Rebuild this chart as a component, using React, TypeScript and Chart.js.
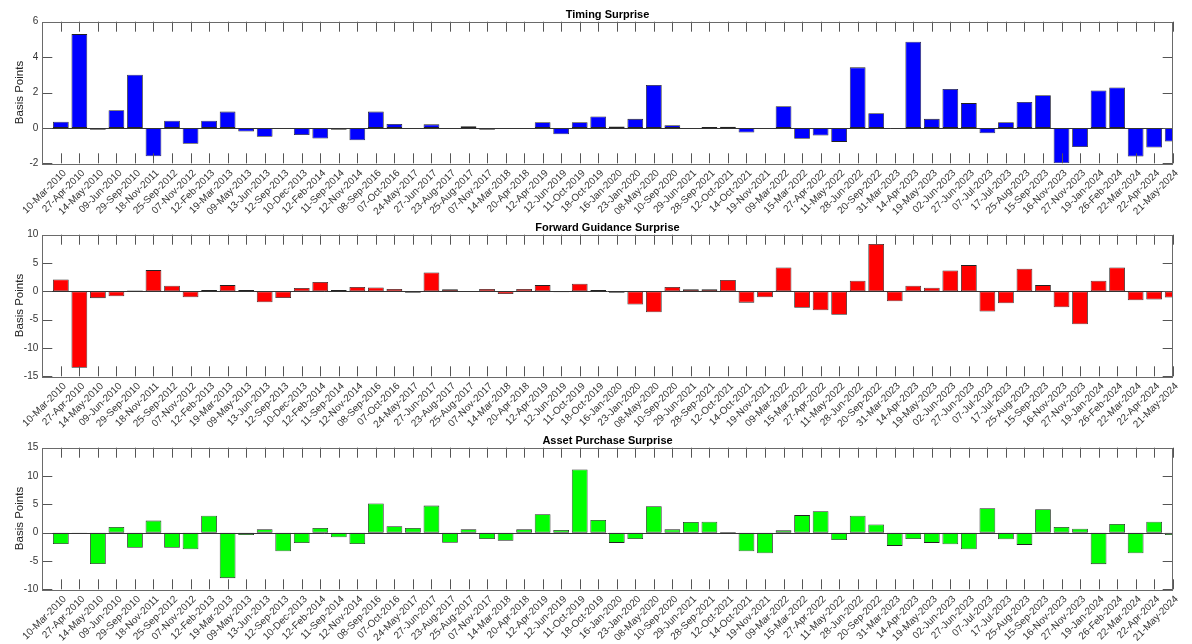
import React, { useEffect, useRef } from "react";
import { Chart, registerables } from "chart.js";

Chart.register(...registerables);

const LABELS: string[] = [
  "10-Mar-2010", "27-Apr-2010", "14-May-2010", "09-Jun-2010", "29-Sep-2010", "18-Nov-2011", "25-Sep-2012", "07-Nov-2012",
  "12-Feb-2013", "19-Mar-2013", "09-May-2013", "13-Jun-2013", "12-Sep-2013", "10-Dec-2013", "12-Feb-2014", "11-Sep-2014",
  "12-Nov-2014", "08-Sep-2016", "07-Oct-2016", "24-May-2017", "27-Jun-2017", "23-Aug-2017", "25-Aug-2017", "07-Nov-2017",
  "14-Mar-2018", "20-Apr-2018", "12-Apr-2019", "12-Jun-2019", "11-Oct-2019", "18-Oct-2019", "16-Jan-2020", "23-Jan-2020",
  "08-May-2020", "10-Sep-2020", "29-Jun-2021", "28-Sep-2021", "12-Oct-2021", "14-Oct-2021", "19-Nov-2021", "09-Mar-2022",
  "15-Mar-2022", "27-Apr-2022", "11-May-2022", "28-Jun-2022", "20-Sep-2022", "31-Mar-2023", "14-Apr-2023", "19-May-2023",
  "02-Jun-2023", "27-Jun-2023", "07-Jul-2023", "17-Jul-2023", "25-Aug-2023", "15-Sep-2023", "16-Nov-2023", "27-Nov-2023",
  "19-Jan-2024", "26-Feb-2024", "22-Mar-2024", "22-Apr-2024", "21-May-2024",
];

const TIMING: number[] = [
  0.35, 5.3, -0.1, 1.0, 3.0, -1.6, 0.4, -0.9, 0.4, 0.92,
  -0.2, -0.5, 0, -0.4, -0.6, -0.1, -0.7, 0.92, 0.22, 0,
  0.2, -0.04, 0.1, -0.1, 0, 0, 0.32, -0.36, 0.32, 0.65,
  0.08, 0.51, 2.42, 0.15, 0, 0.05, 0.07, -0.26, -0.05, 1.22,
  -0.62, -0.43, -0.79, 3.42, 0.83, 0, 4.87, 0.51, 2.2, 1.4,
  -0.3, 0.32, 1.47, 1.85, -2.0, -1.08, 2.11, 2.28, -1.62, -1.11, -0.77,
];

const FORWARD: number[] = [
  2.1, -13.5, -1.2, -0.88, 0.15, 3.75, 1.0, -1.05, 0.23, 1.1,
  0.23, -1.93, -1.17, 0.59, 1.64, 0.23, 0.76, 0.7, 0.41, -0.23,
  3.34, 0.35, 0, 0.41, -0.47, 0.41, 1.1, -0.18, 1.35, 0.23,
  -0.23, -2.34, -3.7, 0.76, 0.35, 0.35, 2.0, -2.0, -1.05, 4.2,
  -2.9, -3.33, -4.15, 1.87, 8.37, -1.76, 1.0, 0.64, 3.69, 4.63,
  -3.57, -2.1, 3.98, 1.1, -2.8, -5.8, 1.87, 4.2, -1.58, -1.46, -1.1,
];

const ASSET: number[] = [
  -2.0, -0.1, -5.55, 1.0, -2.66, 2.13, -2.66, -2.95, 3.0, -8.03,
  -0.41, 0.59, -3.3, -1.83, 0.83, -0.83, -2.0, 5.14, 1.12, 0.83,
  4.78, -1.77, 0.59, -1.12, -1.42, 0.59, 3.25, 0.47, 11.16, 2.23,
  -1.81, -1.11, 4.68, 0.58, 1.87, 1.93, 0.1, -3.27, -3.63, 0.41,
  3.1, 3.8, -1.29, 2.98, 1.46, -2.34, -1.11, -1.81, -2.05, -2.92,
  4.33, -1.17, -2.16, 4.15, 0.99, 0.7, -5.56, 1.52, -3.63, 1.93, -0.41,
];

const TITLES = ["Timing Surprise", "Forward Guidance Surprise", "Asset Purchase Surprise"];
const COLORS = ["#0000ff", "#ff0000", "#00ff00"];
const Y_MIN = [-2, -15, -10];
const Y_MAX = [6, 10, 15];
const Y_STEP = [2, 5, 5];
const SERIES = [TIMING, FORWARD, ASSET];

const FONT = "'Liberation Sans', Arial, Helvetica, sans-serif";
const CANVAS_W = 1192;
const CANVAS_H = 232;
const PANEL_STEP = 212.8;

const matlabAxes = {
  id: "matlabAxes",
  afterDatasetsDraw(chart: any, _args: any, opts: any) {
    const { ctx, chartArea: a, scales } = chart;
    const xs = scales.x;
    const ys = scales.y;
    const TL = 10;
    ctx.save();
    const y0 = Math.round(ys.getPixelForValue(0)) + 0.5;
    ctx.strokeStyle = "#333333";
    ctx.lineWidth = 1;
    ctx.beginPath();
    ctx.moveTo(a.left, y0);
    ctx.lineTo(a.right, y0);
    ctx.stroke();
    ctx.strokeStyle = "#555555";
    ctx.beginPath();
    xs.ticks.forEach((t: any) => {
      const px = Math.round(xs.getPixelForValue(t.value)) + 0.5;
      ctx.moveTo(px, a.bottom);
      ctx.lineTo(px, a.bottom - TL);
      ctx.moveTo(px, a.top);
      ctx.lineTo(px, a.top + TL);
    });
    ys.ticks.forEach((t: any) => {
      const py = Math.round(ys.getPixelForValue(t.value)) + 0.5;
      ctx.moveTo(a.left, py);
      ctx.lineTo(a.left + TL, py);
      ctx.moveTo(a.right, py);
      ctx.lineTo(a.right - TL, py);
    });
    ctx.stroke();
    ctx.strokeStyle = "#6a6a6a";
    ctx.strokeRect(Math.round(a.left) + 0.5, Math.round(a.top) + 0.5, Math.round(a.right - a.left), Math.round(a.bottom - a.top));
    ctx.fillStyle = "#000000";
    ctx.font = `bold 11px ${FONT}`;
    ctx.textAlign = "center";
    ctx.textBaseline = "middle";
    ctx.fillText(opts.text, (a.left + a.right) / 2, a.top - 7);
    ctx.restore();
  },
};

function Panel({ idx }: { idx: number }) {
  const ref = useRef<HTMLCanvasElement>(null);
  useEffect(() => {
    if (!ref.current) return;
    const values = SERIES[idx];
    const chart = new Chart(ref.current, {
      type: "bar",
      data: {
        datasets: [
          {
            data: values.map((v, i) => ({ x: i + 1, y: v })),
            backgroundColor: COLORS[idx],
            borderColor: "#222222",
            borderWidth: 0.8,
            borderSkipped: false,
            categoryPercentage: 1,
            barPercentage: 0.85,
            clip: 0,
          } as any,
        ],
      },
      options: {
        responsive: false,
        animation: false,
        devicePixelRatio: 1,
        layout: { padding: { top: 21.7, right: 19.3, left: 0, bottom: 0 } },
        plugins: {
          legend: { display: false },
          tooltip: { enabled: false },
          title: { display: false },
          matlabAxes: { text: TITLES[idx] },
        } as any,
        scales: {
          x: {
            type: "linear",
            offset: false,
            min: 0,
            max: LABELS.length,
            grid: { display: false, offset: false, drawTicks: false, tickLength: 0 },
            border: { display: false },
            afterBuildTicks: (s: any) => {
              s.ticks = LABELS.map((_, i) => ({ value: i + 1 }));
            },
            afterFit: (s: any) => {
              s.height = CANVAS_H - 163.3;
            },
            ticks: {
              autoSkip: false,
              maxRotation: 45,
              minRotation: 45,
              padding: 4,
              labelOffset: 4,
              color: "#333333",
              font: { family: FONT, size: 10 },
              callback: (v: any) => LABELS[Number(v) - 1] ?? "",
            },
          },
          y: {
            type: "linear",
            min: Y_MIN[idx],
            max: Y_MAX[idx],
            grid: { display: false, drawTicks: false, tickLength: 0 },
            border: { display: false },
            afterFit: (s: any) => {
              s.width = 42.3;
            },
            ticks: {
              stepSize: Y_STEP[idx],
              padding: 4,
              color: "#333333",
              font: { family: FONT, size: 10 },
            },
            title: {
              display: true,
              text: "Basis Points",
              color: "#222222",
              font: { family: FONT, size: 11.5 },
              padding: { top: 13, bottom: 0 },
            },
          },
        },
      },
      plugins: [matlabAxes as any],
    });
    return () => chart.destroy();
  }, [idx]);
  return (
    <canvas
      ref={ref}
      width={CANVAS_W}
      height={CANVAS_H}
      style={{ position: "absolute", left: 0, top: idx * PANEL_STEP, width: CANVAS_W, height: CANVAS_H }}
    />
  );
}

export default function App() {
  return (
    <div style={{ position: "absolute", left: 0, top: 0, width: CANVAS_W, height: 644, background: "#ffffff", overflow: "hidden" }}>
      <Panel idx={0} />
      <Panel idx={1} />
      <Panel idx={2} />
    </div>
  );
}
